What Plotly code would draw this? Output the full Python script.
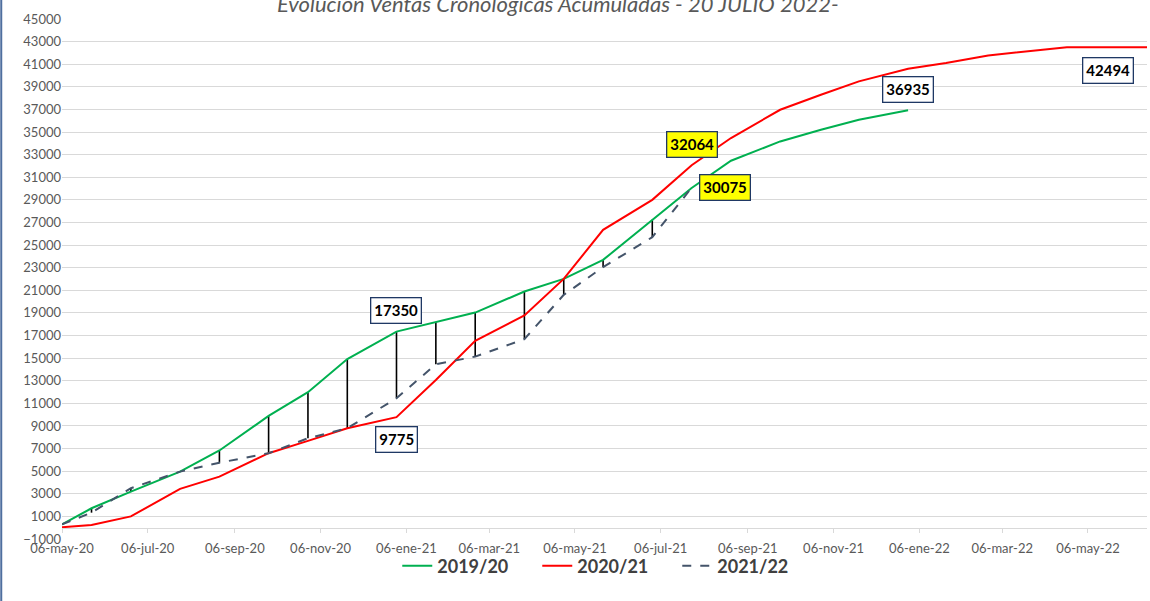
import plotly.graph_objects as go

# fechas de corte (miércoles, último de cada mes aprox.)
dates = ['2020-05-06', '2020-05-27', '2020-06-24', '2020-07-29', '2020-08-26',
         '2020-09-30', '2020-10-28', '2020-11-25', '2020-12-30', '2021-01-27',
         '2021-02-24', '2021-03-31', '2021-04-28', '2021-05-26', '2021-06-30',
         '2021-07-28', '2021-08-25', '2021-09-29', '2021-10-28', '2021-11-24',
         '2021-12-29', '2022-01-25', '2022-02-24', '2022-03-26', '2022-04-21',
         '2022-05-25', '2022-06-29']

v1920 = [300, 1720, 3190, 4960, 6830, 9890, 11990, 14920, 17350, 18180,
         19030, 20890, 22010, 23690, 27250, 30050, 32460, 34170, 35200, 36090,
         36935]
v2021 = [50, 240, 1000, 3430, 4520, 6590, 7680, 8800, 9775, 13070,
         16530, 18770, 22010, 26350, 29000, 32064, 34470, 36970, 38300, 39480,
         40600, 41100, 41780, 42130, 42494, 42494, 42494]
v2122 = [300, 1330, 3490, 4960, 5750, 6590, 7910, 8800, 11450, 14450,
         15135, 16675, 20600, 23050, 25700, 30075]

tick_dates = ['2020-05-06', '2020-07-06', '2020-09-06', '2020-11-06', '2021-01-06',
              '2021-03-06', '2021-05-06', '2021-07-06', '2021-09-06', '2021-11-06',
              '2022-01-06', '2022-03-06', '2022-05-06']
tick_text = ['06-may-20', '06-jul-20', '06-sep-20', '06-nov-20', '06-ene-21',
             '06-mar-21', '06-may-21', '06-jul-21', '06-sep-21', '06-nov-21',
             '06-ene-22', '06-mar-22', '06-may-22']

title = 'Evolución Ventas Cronológicas Acumuladas - 20 JULIO 2022-'

FONT = 'Lato'

fig = go.Figure()

# lineas verticales entre 2019/20 y 2021/22
hx, hy = [], []
for i in range(len(v2122)):
    hx += [dates[i], dates[i], None]
    hy += [v2122[i], v1920[i], None]
fig.add_trace(go.Scatter(x=hx, y=hy, mode='lines', line=dict(color='black', width=1.6),
                         showlegend=False, hoverinfo='skip'))

fig.add_trace(go.Scatter(x=dates[:len(v1920)], y=v1920, mode='lines', name='<b>2019/20</b>',
                         line=dict(color='#00b050', width=2)))
fig.add_trace(go.Scatter(x=dates, y=v2021, mode='lines', name='<b>2020/21</b>',
                         line=dict(color='#ff0000', width=2)))
fig.add_trace(go.Scatter(x=dates[:len(v2122)], y=v2122, mode='lines', name='<b>2021/22</b>',
                         line=dict(color='#44546a', width=2, dash='dash')))


def box(x, y, txt, bg, xs=0, ys=0):
    fig.add_annotation(x=x, y=y, text='<b>' + txt + '</b>', showarrow=False,
                       xshift=xs, yshift=ys, bgcolor=bg, bordercolor='#1f3864',
                       borderwidth=1.3, borderpad=3,
                       font=dict(family=FONT, size=15, color='black'))


box(dates[8], v1920[8], str(v1920[8]), 'white', ys=21)
box(dates[8], v2021[8], str(v2021[8]), 'white', ys=-22)
box(dates[15], v2021[15], str(v2021[15]), '#ffff00', ys=21)
box(dates[15], v2122[15], str(v2122[15]), '#ffff00', xs=33)
box(dates[20], v1920[20], str(v1920[20]), 'white', ys=21)
box(dates[25], v2021[25], str(v2021[25]), 'white', xs=-7, ys=-23)

fig.add_annotation(text='<i>' + title + '</i>', xref='paper', yref='paper',
                   x=0.457, y=1.03, xanchor='center', yanchor='middle', showarrow=False,
                   font=dict(family=FONT, size=22, color='#595959'))

fig.add_shape(type='line', xref='paper', yref='paper', x0=-0.056, x1=-0.056,
              y0=-0.12, y1=1.04, line=dict(color='#4f6f9f', width=2))

fig.update_layout(
    width=1150, height=601,
    margin=dict(l=62, r=3, t=19, b=62, autoexpand=False),
    paper_bgcolor='white', plot_bgcolor='white',
    font=dict(family=FONT, color='#595959'),
    legend=dict(orientation='h', x=0.309, xanchor='left', y=-0.052, yanchor='middle',
                entrywidth=95, entrywidthmode='pixels', bgcolor='rgba(0,0,0,0)',
                font=dict(family=FONT, size=18, color='#404040')),
)
fig.update_xaxes(type='date', range=['2020-05-06', '2022-06-17'],
                 tickvals=tick_dates, ticktext=tick_text, automargin=False,
                 anchor='free', position=1000 / 46000,
                 showgrid=False, showline=True, linecolor='#d9d9d9', linewidth=1,
                 ticks='outside', ticklen=4, tickcolor='#d9d9d9', ticklabelstandoff=5,
                 tickfont=dict(family=FONT, size=13, color='#595959'))
fig.update_yaxes(range=[-1000, 45000], tick0=-1000, dtick=2000, tickformat='d',
                 automargin=False,
                 showgrid=True, gridcolor='#d9d9d9', gridwidth=1, zeroline=False,
                 showline=False, tickfont=dict(family=FONT, size=13, color='#595959'))

fig.write_html('out.html', config={'displayModeBar': False},
               post_script="document.body.style.margin='0';")
